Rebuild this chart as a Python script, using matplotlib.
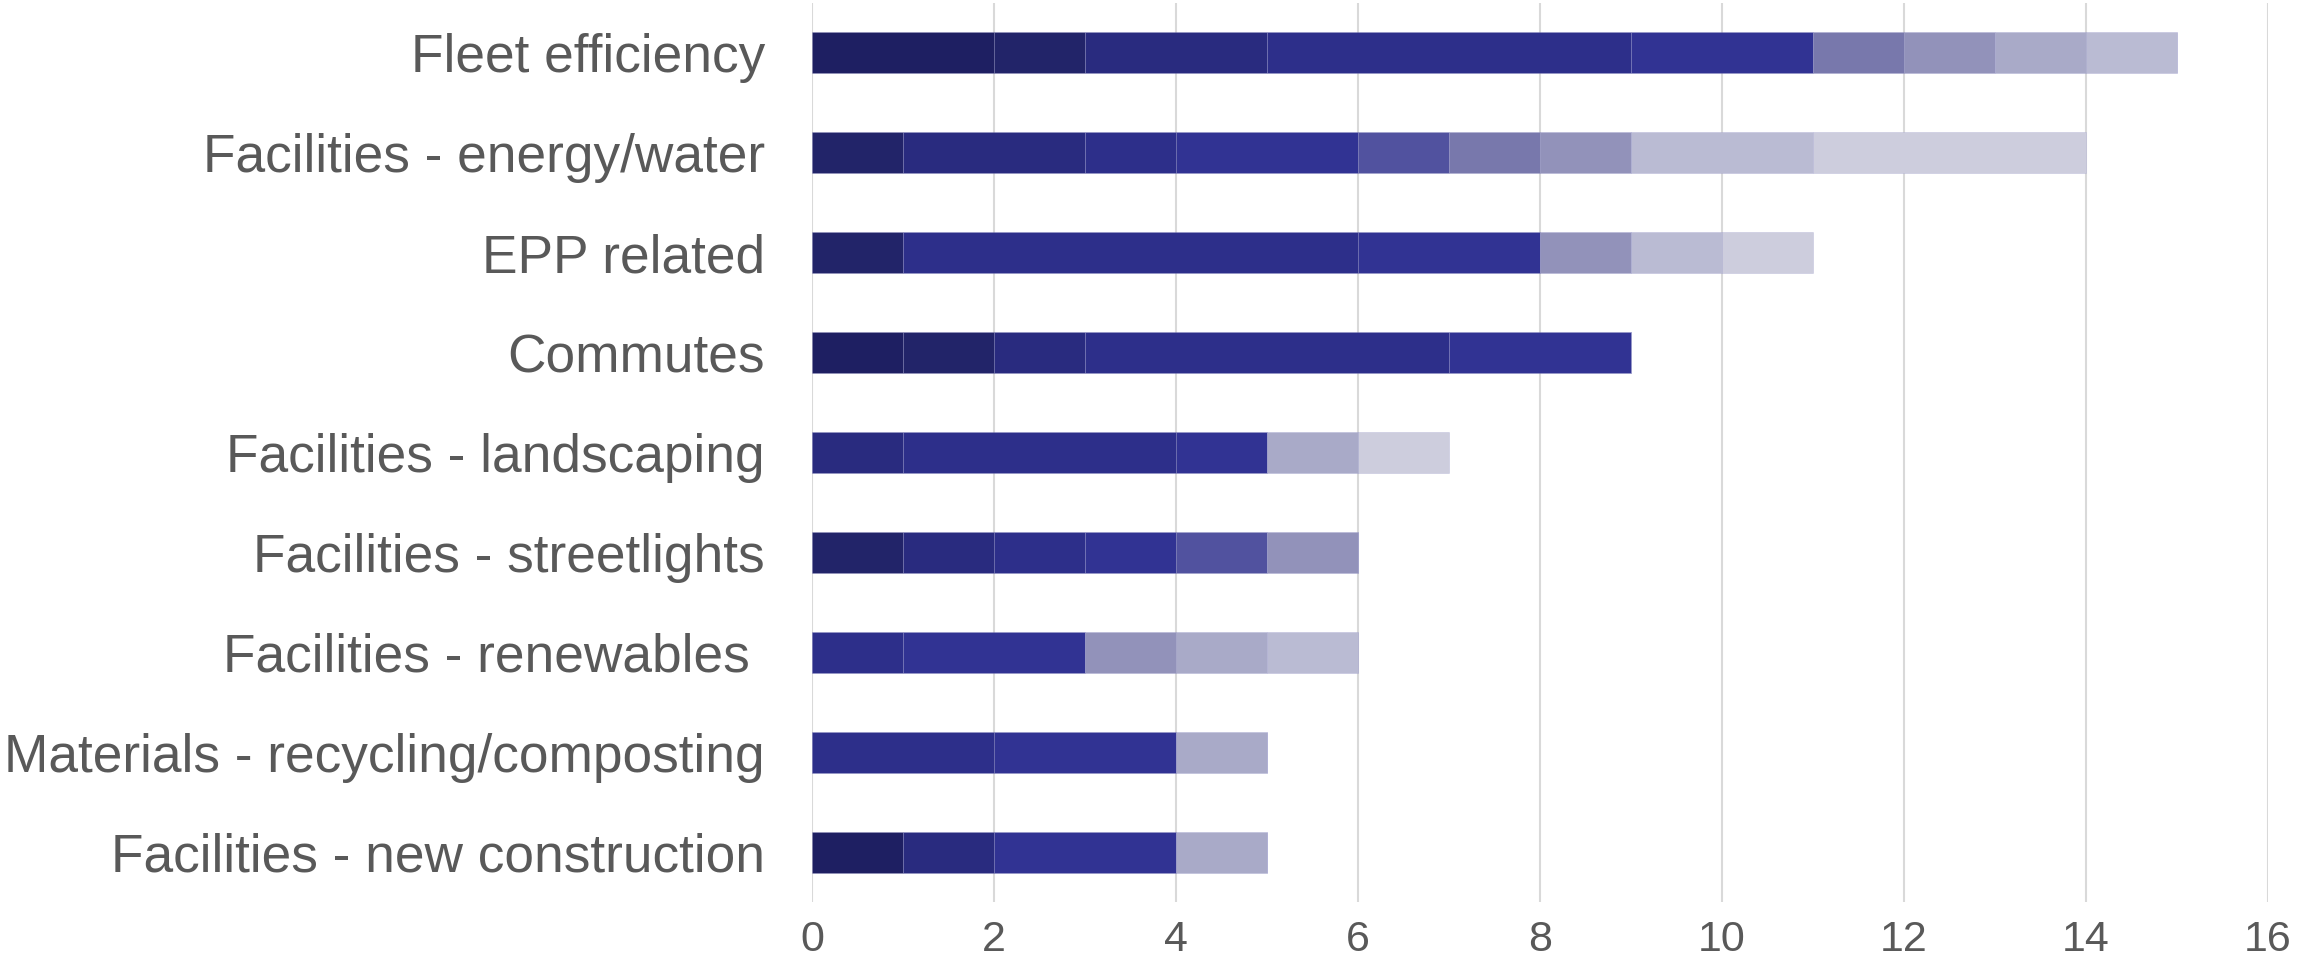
import matplotlib
matplotlib.use('Agg')
from matplotlib import pyplot as plt
import numpy as np

categories = ['Fleet efficiency', 'Facilities - energy/water', 'EPP related', 'Commutes',
              'Facilities - landscaping', 'Facilities - streetlights', 'Facilities - renewables ',
              'Materials - recycling/composting', 'Facilities - new construction']

# counts per shade, darkest first
s0 = [2, 0, 0, 1, 0, 0, 0, 0, 1]
s1 = [1, 1, 1, 1, 0, 1, 0, 0, 0]
s2 = [2, 2, 0, 1, 1, 1, 0, 0, 1]
s3 = [4, 1, 5, 4, 3, 1, 1, 2, 0]
s4 = [2, 2, 2, 2, 1, 1, 2, 2, 2]
s5 = [0, 1, 0, 0, 0, 1, 0, 0, 0]
s6 = [1, 1, 0, 0, 0, 0, 0, 0, 0]
s7 = [1, 1, 1, 0, 0, 1, 1, 0, 0]
s8 = [1, 0, 0, 0, 1, 0, 1, 1, 1]
s9 = [1, 2, 1, 0, 0, 0, 1, 0, 0]
s10 = [0, 3, 1, 0, 1, 0, 0, 0, 0]

series = [s0, s1, s2, s3, s4, s5, s6, s7, s8, s9, s10]
colors = ['#1e1f62', '#222469', '#292b7f', '#2d2f8a', '#313393', '#51529f',
          '#7878ac', '#9292ba', '#a9aac8', '#babbd3', '#cdcddd']

plt.rcParams['font.family'] = ['Liberation Sans', 'DejaVu Sans']

fig = plt.figure(figsize=(23.05, 9.66), dpi=100)
ax = fig.add_axes([0.3523, 0.066, 0.6317, 0.931])

y = np.arange(len(categories))
left = np.zeros(len(categories))
for vals, col in zip(series, colors):
	vals = np.array(vals, dtype=float)
	ax.barh(y, vals, left=left, height=0.41, color=col, edgecolor=(0.6, 0.6, 0.8, 0.35), linewidth=0.5, zorder=3)
	left += vals

ax.set_xlim(0, 16)
ax.set_ylim(len(categories) - 0.5, -0.5)
ax.set_xticks(range(0, 17, 2))
ax.set_yticks(y)
ax.set_yticklabels(categories, fontsize=38.3, color='#595959')
ax.tick_params(axis='x', labelsize=31, labelcolor='#595959', length=0, pad=13)
ax.tick_params(axis='y', length=0, pad=34)
ax.grid(axis='x', color='#d9d9d9', linewidth=1.5, zorder=0)
for s in ax.spines.values():
	s.set_visible(False)

fig.savefig('out.png', dpi=100, facecolor='white')
